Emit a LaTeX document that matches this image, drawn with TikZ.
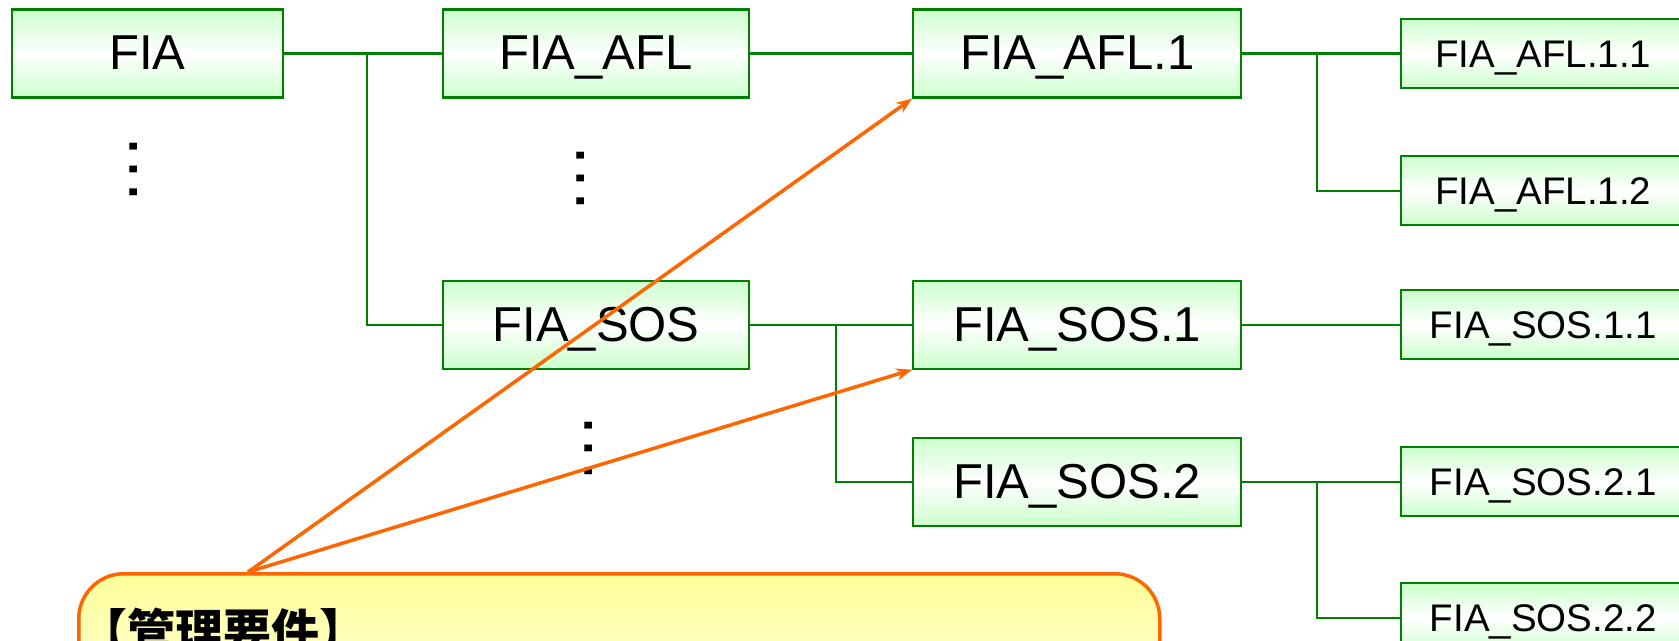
\documentclass[tikz,border=0pt]{standalone}
\usepackage{fontspec}
\setmainfont{Liberation Sans}
\newfontfamily\cjk{Noto Sans CJK JP}
\usepackage{tikz}
\usetikzlibrary{arrows.meta, positioning}

\definecolor{verdeborde}{HTML}{008000}
\definecolor{verdeclaro}{HTML}{CCFFCC}
\definecolor{naranja}{HTML}{FF6600}
\definecolor{amarillo}{HTML}{FFFF99}
\definecolor{amarilloclaro}{HTML}{FFFFE6}

\tikzstyle{caja} = [
  rectangle, draw=verdeborde, line width=1.2pt,
  top color=verdeclaro, bottom color=verdeclaro, middle color=white,
  text centered, inner sep=0pt
]
\tikzstyle{nivel} = [
  caja, minimum height=1.76cm, text height=0.7cm, text depth=0.04cm,
  font=\fontsize{27.9pt}{32pt}\selectfont
]
\tikzstyle{hoja} = [
  caja, minimum width=5.68cm, minimum height=1.38cm,
  text height=0.56cm, text depth=0cm,
  font=\fontsize{21.9pt}{26pt}\selectfont
]
\tikzstyle{puntos} = [
  rotate=90, inner sep=0pt, font=\fontsize{41pt}{41pt}\selectfont
]
\tikzstyle{nota} = [
  rectangle, rounded corners=0.9cm, draw=naranja, line width=2pt,
  top color=amarillo, bottom color=amarilloclaro,
  text width=21.58cm, align=left, inner xsep=0.02cm, inner ysep=0pt,
  text height=1.52cm, text depth=1.5cm,
  font=\fontsize{27.3pt}{32pt}\selectfont
]
\tikzset{
  linea/.style={draw=verdeborde, line width=1.2pt},
  flecha/.style={
    draw=naranja, line width=2pt,
    -{Stealth[length=0.32cm,width=0.24cm]}
  }
}

\begin{document}
\begin{tikzpicture}

\useasboundingbox (0,0) rectangle (33.58,-12.82);
\clip (0,0) rectangle (33.58,-12.82);

% ------------------------------------------------
% FILA 1 – rama AFL
% ------------------------------------------------

\node[nivel, minimum width=5.42cm] (n0) at (2.95,-1.07) {FIA};
\node[nivel, minimum width=6.12cm, right=3.16cm of n0] (n1) {FIA\_AFL};
\node[nivel, minimum width=6.56cm, right=3.24cm of n1] (n2) {FIA\_AFL.1};
\node[hoja, right=3.16cm of n2] (n3) {FIA\_AFL.1.1};
\node[hoja, below=1.32cm of n3] (n4) {FIA\_AFL.1.2};

% ------------------------------------------------
% FILA 2 – rama SOS
% ------------------------------------------------

\node[nivel, minimum width=6.12cm, below=3.62cm of n1] (n5) {FIA\_SOS};
\node[nivel, minimum width=6.56cm, right=3.24cm of n5] (n6) {FIA\_SOS.1};
\node[hoja, right=3.16cm of n6] (n7) {FIA\_SOS.1.1};
\node[nivel, minimum width=6.56cm, below=1.34cm of n6] (n8) {FIA\_SOS.2};
\node[hoja, right=3.16cm of n8] (n9) {FIA\_SOS.2.1};
\node[hoja, below=1.30cm of n9] (n10) {FIA\_SOS.2.2};

% puntos suspensivos
\node[puntos] (d0) at ([xshift=-0.27cm,yshift=-1.41cm]n0.south) {…};
\node[puntos] (d1) at ([xshift=-0.3cm,yshift=-1.59cm]n1.south) {…};
\node[puntos] (d2) at ([xshift=-0.14cm,yshift=-1.57cm]n5.south) {…};

% ------------------------------------------------
% CONEXIONES DEL ÁRBOL
% ------------------------------------------------

\draw[linea] (n0) -- (n1);
\coordinate (r0) at ([xshift=1.66cm]n0.east);
\draw[linea] (r0) |- (n5);

\draw[linea] (n1) -- (n2);
\draw[linea] (n2) -- (n3);
\coordinate (r1) at ([xshift=1.5cm]n2.east);
\draw[linea] (r1) |- (n4);

\draw[linea] (n5) -- (n6);
\coordinate (r2) at ([xshift=1.72cm]n5.east);
\draw[linea] (r2) |- (n8);

\draw[linea] (n6) -- (n7);
\draw[linea] (n8) -- (n9);
\coordinate (r3) at ([xshift=1.5cm]n8.east);
\draw[linea] (r3) |- (n10);

% ------------------------------------------------
% NOTA Y FLECHAS
% ------------------------------------------------

\node[nota, anchor=north west] (n11) at (1.54,-11.44) {\cjk\bfseries 【管理要件】};

\coordinate (c0) at ([xshift=3.42cm]n11.north west);
\draw[flecha] (c0) -- (n2.south west);
\draw[flecha] (c0) -- (n6.south west);

\end{tikzpicture}
\end{document}
